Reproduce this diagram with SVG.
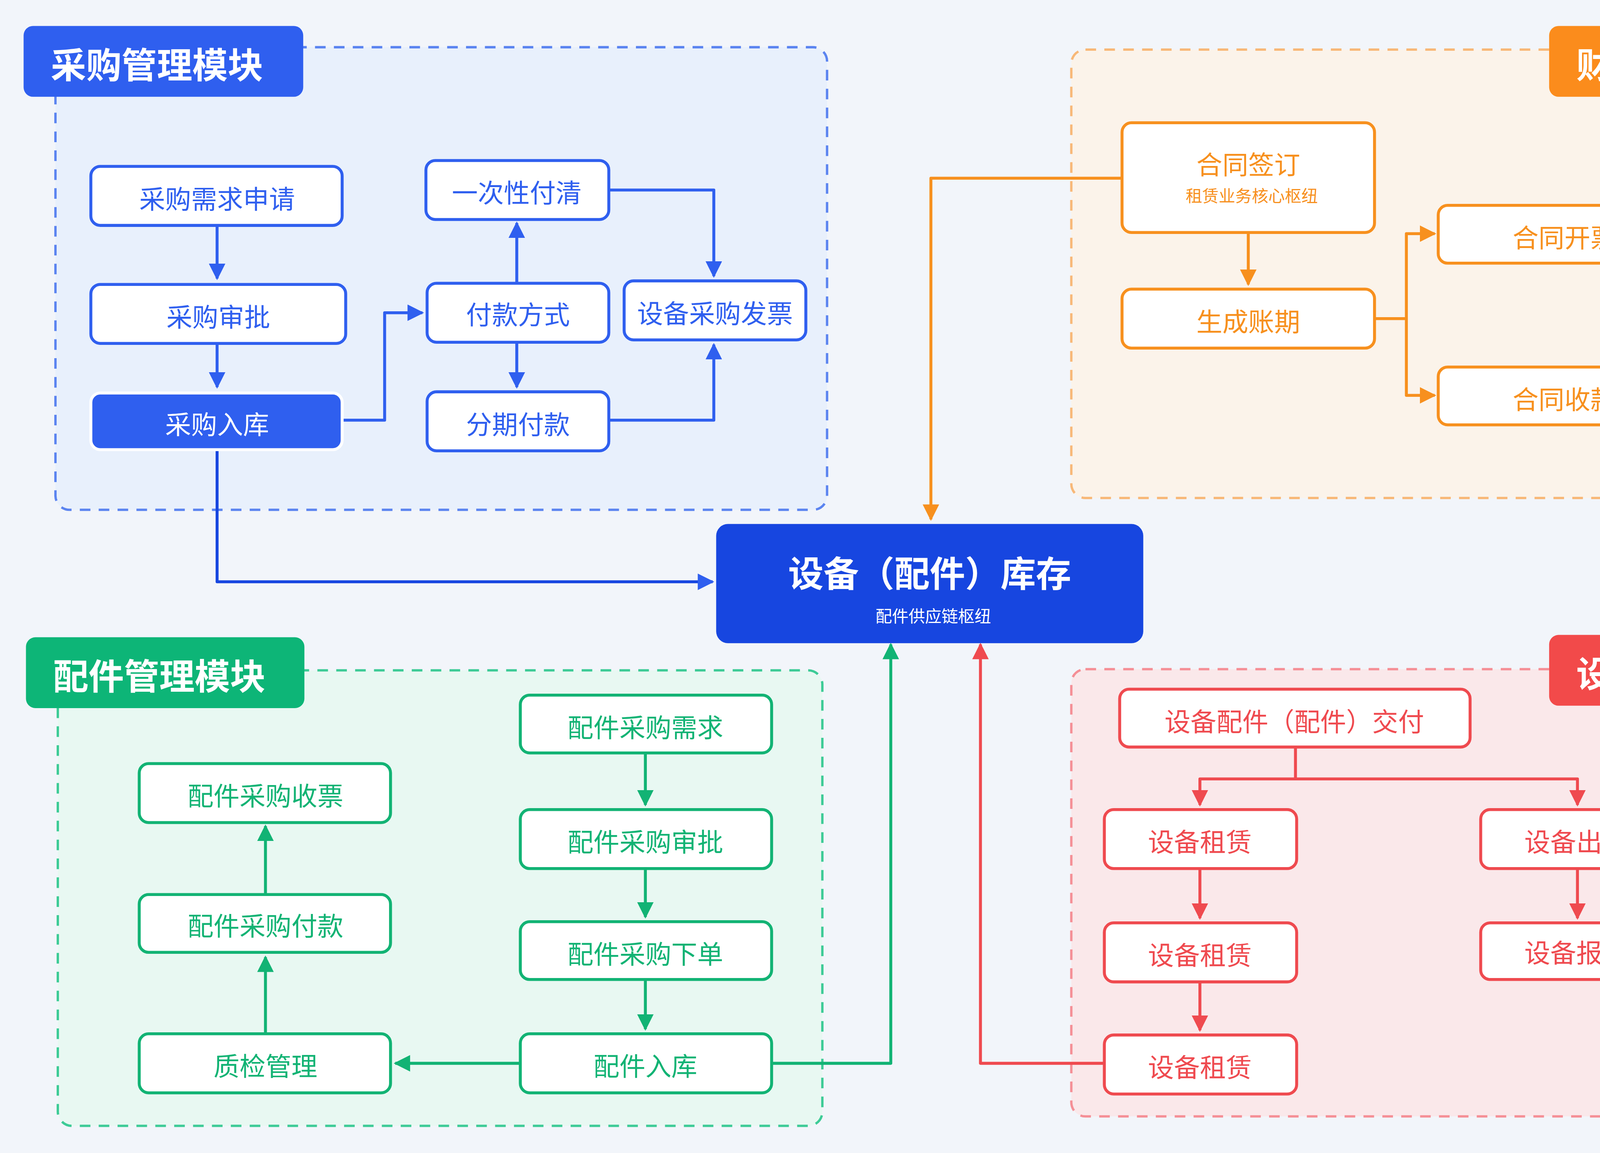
<svg xmlns="http://www.w3.org/2000/svg" width="4736" height="2952" viewBox="0 0 4736 2952">
<defs>
<style>
text{font-family:"Noto Sans CJK SC","Noto Sans",sans-serif;text-anchor:middle;dominant-baseline:central}
.n{fill:#fff;stroke-width:2.5}
.b .n{stroke:#2f5fef}.b text{fill:#2f5fef}
.o .n{stroke:#f7901e}.o text{fill:#f7901e}
.g .n{stroke:#12b374}.g text{fill:#12b374}
.r .n{stroke:#ef4a4f}.r text{fill:#ef4a4f}
.t{font-size:22px}
.tag{fill:#fff;font-size:30px;font-weight:bold}
.c{fill:none;stroke-width:2.5;stroke-linejoin:round}
</style>
<marker id="mb" viewBox="0 0 10 10" refX="9" refY="5" markerWidth="14" markerHeight="14" markerUnits="userSpaceOnUse" orient="auto"><path d="M0,0L10,5L0,10z" fill="#2f5fef"/></marker>
<marker id="mo" viewBox="0 0 10 10" refX="9" refY="5" markerWidth="14" markerHeight="14" markerUnits="userSpaceOnUse" orient="auto"><path d="M0,0L10,5L0,10z" fill="#f7901e"/></marker>
<marker id="mg" viewBox="0 0 10 10" refX="9" refY="5" markerWidth="14" markerHeight="14" markerUnits="userSpaceOnUse" orient="auto"><path d="M0,0L10,5L0,10z" fill="#12b374"/></marker>
<marker id="mr" viewBox="0 0 10 10" refX="9" refY="5" markerWidth="14" markerHeight="14" markerUnits="userSpaceOnUse" orient="auto"><path d="M0,0L10,5L0,10z" fill="#ef4a4f"/></marker>
</defs>
<rect width="4736" height="2952" fill="#f2f5fa"/>
<svg x="0" y="0" width="4736" height="2952" viewBox="0 0 1568 977" preserveAspectRatio="none">
<g id="modules">
<rect x="47" y="40" width="654" height="392" rx="12" fill="#e8f0fc" stroke="#5b84f0" stroke-width="2" stroke-dasharray="9 7"/>
<rect x="908" y="42" width="614" height="380" rx="12" fill="#fbf3ea" stroke="#f8b878" stroke-width="2" stroke-dasharray="9 7"/>
<rect x="49" y="568" width="648" height="386" rx="12" fill="#e8f8f2" stroke="#3dcb96" stroke-width="2" stroke-dasharray="9 7"/>
<rect x="908" y="567" width="614" height="379" rx="12" fill="#fae8ea" stroke="#f58f96" stroke-width="2" stroke-dasharray="9 7"/>
<g id="tag-purchase"><rect x="20" y="22" width="237" height="60" rx="8" fill="#2f5fef"/><text class="tag" x="133" y="53">采购管理模块</text></g>
<g id="tag-finance"><rect x="1313" y="22" width="236" height="60" rx="8" fill="#fb8c1c"/><text class="tag" x="1426" y="53">财务管理模块</text></g>
<g id="tag-parts"><rect x="22" y="540" width="236" height="60" rx="8" fill="#0db577"/><text class="tag" x="135" y="571">配件管理模块</text></g>
<g id="tag-ops"><rect x="1313" y="538" width="236" height="60" rx="8" fill="#f24a4a"/><text class="tag" x="1426" y="569">设备运营模块</text></g>
</g>
<g id="connectors">
<g marker-end="url(#mb)">
<path class="c" stroke="#2f5fef" d="M184,191V236"/>
<path class="c" stroke="#2f5fef" d="M184,291V328"/>
<path class="c" stroke="#2f5fef" d="M290,356H326V265H358"/>
<path class="c" stroke="#2f5fef" d="M438,240V189"/>
<path class="c" stroke="#2f5fef" d="M438,290V328"/>
<path class="c" stroke="#2f5fef" d="M516,161H605V234"/>
<path class="c" stroke="#2f5fef" d="M516,356H605V292"/>
<path class="c" stroke="#1746e0" d="M184,381V493H604"/>
</g>
<g marker-end="url(#mo)">
<path class="c" stroke="#f7901e" d="M1058,197V241"/>
<path class="c" stroke="#f7901e" d="M1165,270H1192V198H1216"/>
<path class="c" stroke="#f7901e" d="M1192,270V335H1216"/>
<path class="c" stroke="#f7901e" d="M951,151H789V440"/>
</g>
<g marker-end="url(#mg)">
<path class="c" stroke="#12b374" d="M547,638V682"/>
<path class="c" stroke="#12b374" d="M547,736V777"/>
<path class="c" stroke="#12b374" d="M547,830V872"/>
<path class="c" stroke="#12b374" d="M441,901H335"/>
<path class="c" stroke="#12b374" d="M225,876V811"/>
<path class="c" stroke="#12b374" d="M225,758V700"/>
<path class="c" stroke="#12b374" d="M654,901H755V546"/>
</g>
<g marker-end="url(#mr)">
<path class="c" stroke="#ef4a4f" d="M1098,633V660H1017V682"/>
<path class="c" stroke="#ef4a4f" d="M1098,660H1337V682"/>
<path class="c" stroke="#ef4a4f" d="M1017,736V778"/>
<path class="c" stroke="#ef4a4f" d="M1017,832V873"/>
<path class="c" stroke="#ef4a4f" d="M1337,736V778"/>
<path class="c" stroke="#ef4a4f" d="M936,901H831V546"/>
</g>
</g>
<g class="b">
<g id="p1"><rect class="n" x="77" y="141" width="213" height="50" rx="8"/><text class="t" x="184" y="167">采购需求申请</text></g>
<g id="p2"><rect class="n" x="77" y="241" width="216" height="50" rx="8"/><text class="t" x="185" y="267">采购审批</text></g>
<g id="p3"><rect x="77" y="333" width="213" height="48" rx="8" fill="#2f5fef" stroke="#fff" stroke-width="2.5"/><text class="t" x="184" y="358" style="fill:#fff">采购入库</text></g>
<g id="p4"><rect class="n" x="361" y="136" width="155" height="50" rx="8"/><text class="t" x="438" y="162">一次性付清</text></g>
<g id="p5"><rect class="n" x="362" y="240" width="154" height="50" rx="8"/><text class="t" x="439" y="265">付款方式</text></g>
<g id="p6"><rect class="n" x="362" y="332" width="154" height="50" rx="8"/><text class="t" x="439" y="358">分期付款</text></g>
<g id="p7"><rect class="n" x="529" y="238" width="154" height="50" rx="8"/><text class="t" x="606" y="264">设备采购发票</text></g>
</g>
<g id="hub"><rect x="607" y="444" width="362" height="101" rx="10" fill="#1746e0"/><text x="788" y="484" fill="#fff" font-size="30" font-weight="bold">设备（配件）库存</text><text x="791" y="521" fill="#fff" font-size="14">配件供应链枢纽</text></g>
<g class="o">
<g id="f1"><rect class="n" x="951" y="104" width="214" height="93" rx="8"/><text x="1058" y="138" font-size="22">合同签订</text><text x="1061" y="165" font-size="14">租赁业务核心枢纽</text></g>
<g id="f2"><rect class="n" x="951" y="245" width="214" height="50" rx="8"/><text class="t" x="1058" y="271">生成账期</text></g>
<g id="f3"><rect class="n" x="1219" y="174" width="214" height="49" rx="8"/><text class="t" x="1326" y="200">合同开票</text></g>
<g id="f4"><rect class="n" x="1219" y="311" width="214" height="49" rx="8"/><text class="t" x="1326" y="337">合同收款</text></g>
</g>
<g class="g">
<g id="g1"><rect class="n" x="441" y="589" width="213" height="49" rx="8"/><text class="t" x="547" y="615">配件采购需求</text></g>
<g id="g2"><rect class="n" x="441" y="686" width="213" height="50" rx="8"/><text class="t" x="547" y="712">配件采购审批</text></g>
<g id="g3"><rect class="n" x="441" y="781" width="213" height="49" rx="8"/><text class="t" x="547" y="807">配件采购下单</text></g>
<g id="g4"><rect class="n" x="441" y="876" width="213" height="50" rx="8"/><text class="t" x="547" y="902">配件入库</text></g>
<g id="g5"><rect class="n" x="118" y="647" width="213" height="50" rx="8"/><text class="t" x="225" y="673">配件采购收票</text></g>
<g id="g6"><rect class="n" x="118" y="758" width="213" height="49" rx="8"/><text class="t" x="225" y="783">配件采购付款</text></g>
<g id="g7"><rect class="n" x="118" y="876" width="213" height="50" rx="8"/><text class="t" x="225" y="902">质检管理</text></g>
</g>
<g class="r">
<g id="r1"><rect class="n" x="949" y="584" width="297" height="49" rx="8"/><text class="t" x="1097" y="610">设备配件（配件）交付</text></g>
<g id="r2"><rect class="n" x="936" y="686" width="163" height="50" rx="8"/><text class="t" x="1017" y="712">设备租赁</text></g>
<g id="r3"><rect class="n" x="1255" y="686" width="163" height="50" rx="8"/><text class="t" x="1336" y="712">设备出售</text></g>
<g id="r4"><rect class="n" x="936" y="782" width="163" height="50" rx="8"/><text class="t" x="1017" y="808">设备租赁</text></g>
<g id="r5"><rect class="n" x="1255" y="782" width="163" height="48" rx="8"/><text class="t" x="1336" y="806">设备报修</text></g>
<g id="r6"><rect class="n" x="936" y="877" width="163" height="50" rx="8"/><text class="t" x="1017" y="903">设备租赁</text></g>
</g>
</svg>
</svg>
